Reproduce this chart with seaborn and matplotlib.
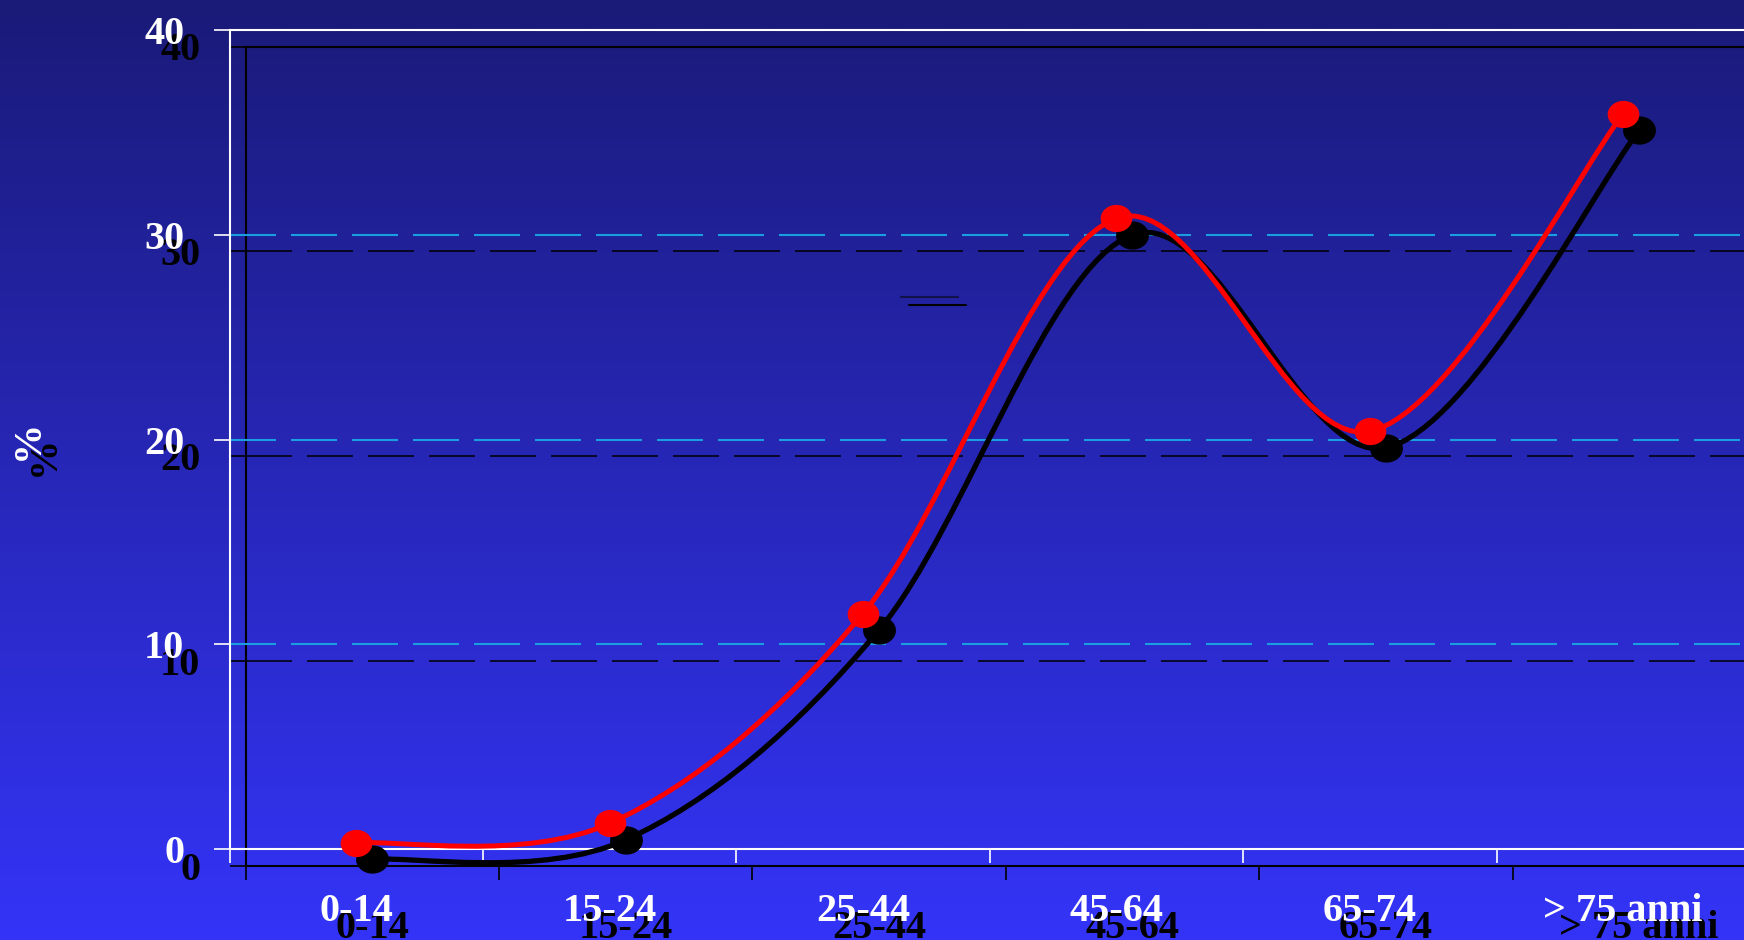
import numpy as np
import matplotlib
matplotlib.use("Agg")
import matplotlib.pyplot as plt
import matplotlib.transforms as mtransforms
from matplotlib.path import Path
from matplotlib.patches import PathPatch
from matplotlib.lines import Line2D
from matplotlib.colors import LinearSegmentedColormap
import seaborn as sns

# ---- data ----
categories = ["0-14", "15-24", "25-44", "45-64", "65-74", "> 75 anni"]
values = [0.3, 1.25, 11.5, 30.8, 20.4, 35.9]
y_ticks = [0, 10, 20, 30, 40]
y_label = "%"

sns.set_style("white")
plt.rcParams['font.family'] = ['Liberation Serif', 'DejaVu Serif']
plt.rcParams['font.weight'] = 'bold'

W, H, DPI = 17.44, 9.40, 100
fig = plt.figure(figsize=(W, H), dpi=DPI)

# background gradient
bg = fig.add_axes([0, 0, 1, 1], zorder=-10)
grad = np.linspace(0, 1, 256)[:, None]
cmap = LinearSegmentedColormap.from_list('bg', ['#1a1a78', '#3434f8'])
bg.imshow(grad, aspect='auto', cmap=cmap, extent=[0, 1, 0, 1], origin='upper')
bg.axis('off')

FS = 29
L, B = 229.5 / 1744, (940 - 849) / 940
Wd, Ht = 1520.4 / 1744, 819 / 940
SX, SY = 16, 16.5  # shadow offset in px


def setup(ax, fg, grid_color, grid_lw, on_px, off_px):
    ax.patch.set_alpha(0)
    for s in ['left', 'top', 'bottom']:
        ax.spines[s].set_color(fg)
        ax.spines[s].set_linewidth(1.5)
        ax.spines[s].set_visible(True)
    ax.spines['right'].set_visible(False)
    ax.set_xticks(range(len(categories)))
    ax.set_xticklabels(categories)
    ax.set_xticks(np.arange(-0.5, len(categories), 1.0), minor=True)
    ax.tick_params(axis='x', which='major', bottom=True, length=0, pad=32,
                   labelsize=FS, labelcolor=fg)
    ax.tick_params(axis='x', which='minor', bottom=True, length=10, width=1.2,
                   color=fg, direction='out')
    ax.set_yticks(y_ticks)
    ax.tick_params(axis='y', left=True, length=11.5, width=1.2, color=fg, pad=21,
                   labelsize=FS, labelcolor=fg, direction='out')
    for t in ax.get_xticklabels() + ax.get_yticklabels():
        t.set_fontweight('bold')
    ax.set_axisbelow(True)
    ax.yaxis.grid(True, color=grid_color, lw=grid_lw,
                  linestyle=(0, (on_px * 0.72 / grid_lw, off_px * 0.72 / grid_lw)))
    ax.xaxis.grid(False)
    ax.set_xlim(-0.5, len(categories) - 0.5)
    ax.set_ylim(y_ticks[0], y_ticks[-1])
    ax.set_xlabel('')
    ax.set_ylabel(y_label, fontsize=FS, color=fg, fontweight='bold',
                  rotation=90, va='center', ha='center')
    ax.yaxis.set_label_coords((28.5 - 229.5) / 1520.4, 0.5)


# shadow axes (drawn below)
ax_s = fig.add_axes([L + SX / 1744, B - SY / 940, Wd, Ht])
setup(ax_s, 'black', 'black', 1.1, 46, 15)

# main axes
ax = fig.add_axes([L, B, Wd, Ht])
setup(ax, 'white', '#1a9ee0', 1.5, 46, 15)

x = np.arange(len(categories))
y = np.array(values, dtype=float)


def smooth_path(xv, yv):
    pts = np.column_stack([xv, yv])
    n = len(pts)
    verts = [pts[0]]
    codes = [Path.MOVETO]
    for i in range(n - 1):
        p0 = pts[max(i - 1, 0)]
        p1 = pts[i]
        p2 = pts[i + 1]
        p3 = pts[min(i + 2, n - 1)]
        c1 = p1 + (p2 - p0) / 6.0
        c2 = p2 - (p3 - p1) / 6.0
        verts += [c1, c2, p2]
        codes += [Path.CURVE4] * 3
    return Path(verts, codes)


# slightly flattened ellipse marker
th = np.linspace(0, 2 * np.pi, 60)
ell = Path(np.column_stack([np.cos(th), 0.86 * np.sin(th)]), closed=True)

offset = mtransforms.ScaledTranslation(SX / DPI, -SY / DPI, fig.dpi_scale_trans)
path = smooth_path(x, y)

ax.add_patch(PathPatch(path, fill=False, ec='black', lw=3.8,
                       transform=ax.transData + offset, zorder=3, clip_on=False,
                       capstyle='round', joinstyle='round'))
sns.scatterplot(x=x, y=y, ax=ax, color='black', s=560, linewidth=0, marker=ell,
                transform=ax.transData + offset, zorder=4, clip_on=False)
ax.add_patch(PathPatch(path, fill=False, ec='#ff0000', lw=3.6,
                       transform=ax.transData, zorder=5, clip_on=False,
                       capstyle='round', joinstyle='round'))
sns.scatterplot(x=x, y=y, ax=ax, color='#ff0000', s=520, linewidth=0, marker=ell,
                zorder=6, clip_on=False)

ax.set_xlim(-0.5, len(categories) - 0.5)
ax.set_ylim(y_ticks[0], y_ticks[-1])
ax.set_xlabel('')

# small legend remnant lines
fig.add_artist(Line2D([901 / 1744, 958 / 1744], [1 - 297 / 940] * 2,
                      transform=fig.transFigure, color='#12124a', lw=1.5))
fig.add_artist(Line2D([909 / 1744, 966 / 1744], [1 - 305 / 940] * 2,
                      transform=fig.transFigure, color='black', lw=1.5))

fig.savefig('out.png', dpi=DPI)
